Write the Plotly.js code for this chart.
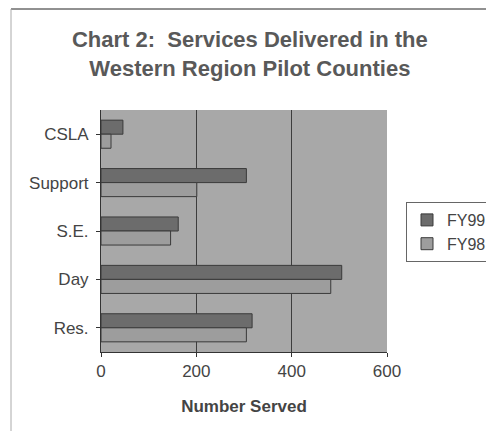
<!DOCTYPE html>
<html>
<head>
<meta charset="utf-8">
<script src="https://cdn.plot.ly/plotly-3.0.1.min.js"></script>
<style>html,body{margin:0;padding:0;background:#fff;}#chart{width:486px;height:431px;}</style>
</head>
<body>
<div id="chart"></div>
<script>
const categories = ["CSLA", "Support", "S.E.", "Day", "Res."];
const fy99 = [46, 305, 162, 505, 317];
const fy98 = [21, 201, 146, 482, 305];
const seriesNames = ["FY99", "FY98"];
const xTicks = [0, 200, 400, 600];

const traces = [
  {type: "bar", orientation: "h", name: seriesNames[0], legendgroup: "a", y: categories, x: fy99,
   marker: {color: "#6c6c6c", line: {color: "#3a3a3a", width: 1}}},
  {type: "bar", orientation: "h", name: seriesNames[1], legendgroup: "b", y: categories, x: fy98,
   marker: {color: "#9d9d9d", line: {color: "#3a3a3a", width: 1}}}
];

const W = 486, H = 431;
const L = 101, R = 99, T = 110, B = 79;
const pw = W - L - R, ph = H - T - B;
const px = v => (v - L) / pw;
const py = v => 1 - (v - T) / ph;

const layout = {
  width: W, height: H,
  margin: {l: L, r: R, t: T, b: B, autoexpand: false},
  paper_bgcolor: "#ffffff",
  plot_bgcolor: "#a8a8a8",
  font: {family: "Liberation Sans, Arial, sans-serif", color: "#444", size: 17},
  title: {text: "<b>Chart 2:  Services Delivered in the<br>Western Region Pilot Counties</b>",
          font: {size: 22, color: "#595959"}, x: 253 / W, xanchor: "center", xref: "paper",
          y: 1 - 47 / H, yanchor: "middle"},
  barmode: "group", bargap: 0.42, bargroupgap: 0,
  showlegend: true,
  legend: {x: px(406), y: py(202), xanchor: "left", yanchor: "top", traceorder: "normal",
           tracegroupgap: 1,
           bgcolor: "#ffffff", bordercolor: "#666", borderwidth: 1,
           font: {size: 16, color: "#444"}},
  xaxis: {range: [0, 600], tickvals: xTicks, ticktext: xTicks.map(String),
          showgrid: true, gridcolor: "#3d3d3d", gridwidth: 1, zeroline: false,
          ticks: "outside", ticklen: 4, tickcolor: "#333", showline: true, linecolor: "#333",
          tickfont: {size: 17, color: "#444"},
          title: {text: "<b>Number Served</b>", font: {size: 17, color: "#444"}, standoff: 19}},
  yaxis: {categoryorder: "array", categoryarray: categories, autorange: "reversed",
          showgrid: false, ticks: "outside", ticklen: 4, tickcolor: "#333",
          showline: true, linecolor: "#333", tickfont: {size: 17, color: "#444"},
          ticklabelstandoff: 4},
  shapes: [
    {type: "line", xref: "paper", yref: "paper", x0: px(11), x1: px(486), y0: py(9), y1: py(9),
     line: {color: "#222", width: 1}},
    {type: "line", xref: "paper", yref: "paper", x0: px(11), x1: px(11), y0: py(9), y1: py(431),
     line: {color: "#aaa", width: 1}}
  ]
};

Plotly.newPlot("chart", traces, layout, {staticPlot: true});
</script>
</body>
</html>
